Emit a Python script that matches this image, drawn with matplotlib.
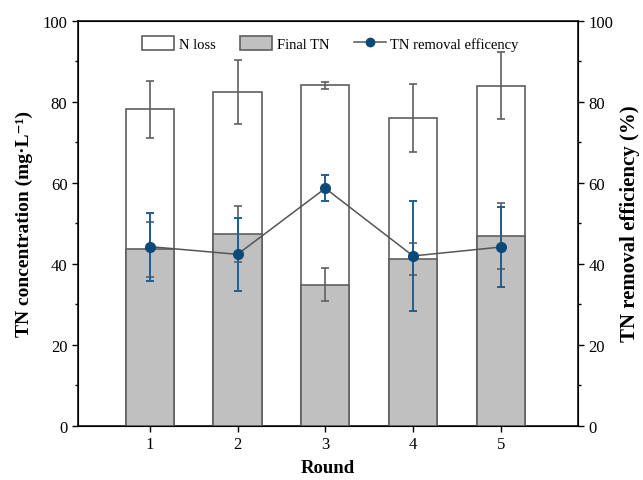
import numpy as np
import matplotlib
matplotlib.use("Agg")
import matplotlib.pyplot as plt
from matplotlib.patches import Patch
from matplotlib.lines import Line2D
from matplotlib.ticker import MultipleLocator

plt.rcParams["font.family"] = ["Liberation Serif", "DejaVu Serif"]

# ---- data ----
rounds = [1, 2, 3, 4, 5]
total_tn = [78.1, 82.3, 84.0, 75.9, 83.9]      # top of white bar (initial TN)
total_err = [7.0, 7.9, 0.9, 8.4, 8.3]
final_tn = [43.5, 47.3, 34.8, 41.1, 46.8]
final_err = [6.7, 6.9, 4.1, 3.9, 8.2]
removal_eff = [44.2, 42.3, 58.6, 41.9, 44.1]
removal_err = [8.4, 9.0, 3.2, 13.5, 9.9]

edge = "#5f5f5f"
gray = "#c0c0c0"
blue = "#0b4a78"
blue_err = "#1f5f8f"

fig = plt.figure(figsize=(6.43, 4.81), dpi=100)
ax = fig.add_axes([0.121, 0.113, 0.778, 0.842])

x = np.array(rounds)
w = 0.55
ax.bar(x, total_tn, width=w, color="white", edgecolor=edge, linewidth=1.2, zorder=2)
ax.errorbar(x, total_tn, yerr=total_err, fmt="none", ecolor=edge, elinewidth=1.2,
            capsize=3, capthick=1.2, zorder=3)
ax.bar(x, final_tn, width=w, color=gray, edgecolor=edge, linewidth=1.2, zorder=4)
ax.errorbar(x, final_tn, yerr=final_err, fmt="none", ecolor=edge, elinewidth=1.2,
            capsize=3, capthick=1.2, zorder=5)

ax.set_xlim(0.18, 5.88)
ax.set_ylim(0, 100)
ax.set_xticks(rounds)
ax.yaxis.set_major_locator(MultipleLocator(20))
ax.yaxis.set_minor_locator(MultipleLocator(10))
ax.tick_params(axis="both", labelsize=12, direction="out", length=4, width=1)
ax.tick_params(axis="y", which="minor", length=2.5, width=1)
ax.set_xlabel("Round", fontsize=13.5, fontweight="bold", labelpad=5)
ax.set_ylabel("TN concentration (mg·L⁻¹)", fontsize=14, fontweight="bold", labelpad=7)
for s in ax.spines.values():
    s.set_linewidth(1.1)

ax2 = ax.twinx()
ax2.errorbar(x, removal_eff, yerr=removal_err, fmt="none", ecolor=blue_err, elinewidth=1.4,
             capsize=3, capthick=1.4, zorder=3)
ax2.plot(x, removal_eff, color="#555555", linewidth=1.1, marker="o", markersize=7,
         markerfacecolor=blue, markeredgecolor=blue, zorder=4)
ax2.set_ylim(0, 100)
ax2.yaxis.set_major_locator(MultipleLocator(20))
ax2.yaxis.set_minor_locator(MultipleLocator(10))
ax2.tick_params(axis="y", labelsize=12, direction="out", length=4, width=1)
ax2.tick_params(axis="y", which="minor", length=2.5, width=1)
ax2.set_ylabel("TN removal efficiency (%)", fontsize=15, fontweight="bold", labelpad=5)

handles = [
    Patch(facecolor="white", edgecolor=edge, linewidth=1.2, label="N loss"),
    Patch(facecolor=gray, edgecolor=edge, linewidth=1.2, label="Final TN"),
    Line2D([], [], color="#555555", linewidth=1.1, marker="o", markersize=6,
           markerfacecolor=blue, markeredgecolor=blue, label="TN removal efficency"),
]
ax2.legend(handles=handles, loc="center", bbox_to_anchor=(0.505, 0.943), ncol=3,
           frameon=False, fontsize=10.5, handlelength=2.2, handleheight=1.1,
           handletextpad=0.3, columnspacing=1.7)

fig.savefig("out.png", dpi=100)
